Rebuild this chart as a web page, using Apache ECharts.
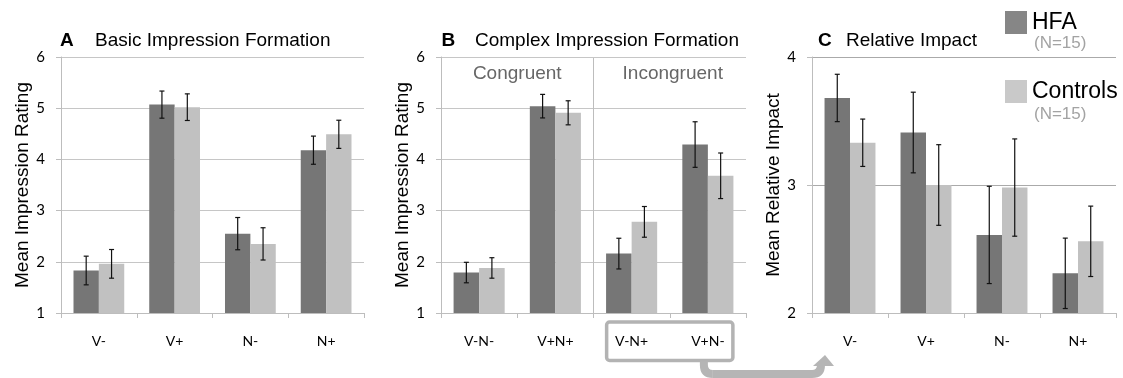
<!DOCTYPE html>
<html>
<head>
<meta charset="utf-8">
<script src="https://cdn.jsdelivr.net/npm/echarts@6/dist/echarts.min.js"></script>
<style>
  html, body { margin: 0; padding: 0; background: #fff; }
  #chart { width: 1123px; height: 378px; }
</style>
</head>
<body>
<div id="chart"></div>
<script>
// Panel A: basic impression formation
const basicCategories = ['V-', 'V+', 'N-', 'N+'];
const basicHFA = [1.83, 5.07, 2.55, 4.18];
const basicHFAErr = [0.28, 0.265, 0.315, 0.275];
const basicCtrl = [1.96, 5.02, 2.35, 4.49];
const basicCtrlErr = [0.28, 0.26, 0.315, 0.275];

// Panel B: complex impression formation
const complexCategories = ['V-N-', 'V+N+', 'V-N+', 'V+N-'];
const complexHFA = [1.79, 5.04, 2.16, 4.29];
const complexHFAErr = [0.2, 0.23, 0.3, 0.445];
const complexCtrl = [1.88, 4.91, 2.78, 3.68];
const complexCtrlErr = [0.2, 0.235, 0.3, 0.445];

// Panel C: relative impact
const impactCategories = ['V-', 'V+', 'N-', 'N+'];
const impactHFA = [3.68, 3.41, 2.61, 2.31];
const impactHFAErr = [0.185, 0.315, 0.38, 0.275];
const impactCtrl = [3.33, 3.0, 2.98, 2.56];
const impactCtrlErr = [0.185, 0.315, 0.38, 0.275];

const panelTitles = ['Basic Impression Formation', 'Complex Impression Formation', 'Relative Impact'];
const panelLetters = ['A', 'B', 'C'];
const axisNames = ['Mean Impression Rating', 'Mean Impression Rating', 'Mean Relative Impact'];
const groupNotes = ['Congruent', 'Incongruent'];
const sampleNote = '(N=15)';

const DARK = '#767676';
const LIGHT = '#c1c1c1';
const AXIS = '#bdbdbd';
const GRIDLINE = '#c6c6c6';
const SANS = '"Liberation Sans", Arial, sans-serif';
const TICKFONT = 'Lato, "Open Sans", sans-serif';
const CAT_GAP = 0.33;

const panels = [
  { cats: basicCategories, hfa: basicHFA, hfaErr: basicHFAErr, ctrl: basicCtrl, ctrlErr: basicCtrlErr, min: 1, max: 6 },
  { cats: complexCategories, hfa: complexHFA, hfaErr: complexHFAErr, ctrl: complexCtrl, ctrlErr: complexCtrlErr, min: 1, max: 6 },
  { cats: impactCategories, hfa: impactHFA, hfaErr: impactHFAErr, ctrl: impactCtrl, ctrlErr: impactCtrlErr, min: 2, max: 4 }
];

const grids = [
  { left: 61, top: 57, width: 303, height: 256 },
  { left: 441, top: 57, width: 305, height: 256 },
  { left: 812, top: 57, width: 304, height: 256 }
];

const titleSpots = [
  { letter: 60, text: 95 },
  { letter: 441.5, text: 475 },
  { letter: 818, text: 846 }
];

function errorSeries(name, values, errs, idx, side) {
  return {
    type: 'custom',
    name: name,
    xAxisIndex: idx,
    yAxisIndex: idx,
    z: 5,
    silent: true,
    encode: { x: 0, y: [1, 2] },
    data: values.map((v, i) => [i, v - errs[i], v + errs[i]]),
    renderItem(params, api) {
      const band = api.size([1, 0])[0];
      const off = side * band * (1 - CAT_GAP) / 4;
      const lo = api.coord([api.value(0), api.value(1)]);
      const hi = api.coord([api.value(0), api.value(2)]);
      const x = lo[0] + off;
      const cap = 2.5;
      const style = { stroke: '#111', lineWidth: 1.2 };
      return {
        type: 'group',
        children: [
          { type: 'line', shape: { x1: x, y1: hi[1], x2: x, y2: lo[1] }, style },
          { type: 'line', shape: { x1: x - cap, y1: hi[1], x2: x + cap, y2: hi[1] }, style },
          { type: 'line', shape: { x1: x - cap, y1: lo[1], x2: x + cap, y2: lo[1] }, style }
        ]
      };
    }
  };
}

const option = {
  animation: false,
  backgroundColor: '#fff',
  title: [],
  legend: {
    orient: 'vertical',
    left: 1005,
    top: 11,
    padding: 0,
    itemWidth: 22,
    itemHeight: 23,
    itemGap: 46,
    icon: 'rect',
    selectedMode: false,
    textStyle: { fontSize: 23, fontFamily: SANS, color: '#000' },
    data: [
      { name: 'HFA', itemStyle: { color: '#868686' } },
      { name: 'Controls', itemStyle: { color: '#c9c9c9' } }
    ]
  },
  grid: grids,
  xAxis: [],
  yAxis: [],
  series: []
};

panels.forEach((p, i) => {
  option.title.push({
    text: panelLetters[i], left: titleSpots[i].letter, top: 31, padding: 0,
    textStyle: { fontSize: 19, fontWeight: 'bold', fontFamily: SANS, color: '#000' }
  });
  option.title.push({
    text: panelTitles[i], left: titleSpots[i].text, top: 31, padding: 0,
    textStyle: { fontSize: 19, fontWeight: 'normal', fontFamily: SANS, color: '#000' }
  });
  option.xAxis.push({
    type: 'category',
    gridIndex: i,
    data: p.cats,
    axisLine: { lineStyle: { color: AXIS, width: 1 } },
    axisTick: { show: true, length: 5, lineStyle: { color: AXIS } },
    axisLabel: { margin: 21, fontSize: 14, fontFamily: TICKFONT, color: '#000' }
  });
  option.yAxis.push({
    type: 'value',
    gridIndex: i,
    min: p.min,
    max: p.max,
    interval: 1,
    name: axisNames[i],
    nameLocation: 'middle',
    nameGap: 28,
    nameTextStyle: { fontSize: 19, fontFamily: SANS, color: '#000' },
    axisLine: { show: true, lineStyle: { color: AXIS } },
    axisTick: { show: true, length: 5, lineStyle: { color: AXIS } },
    axisLabel: { margin: 16, fontSize: 15, fontFamily: TICKFONT, color: '#000' },
    splitLine: { show: true, lineStyle: { color: i === 2 ? '#aaaaaa' : GRIDLINE } }
  });
  option.series.push({
    type: 'bar', name: 'HFA', xAxisIndex: i, yAxisIndex: i,
    data: p.hfa, itemStyle: { color: DARK },
    barGap: '0%', barCategoryGap: (CAT_GAP * 100) + '%'
  });
  option.series.push({
    type: 'bar', name: 'Controls', xAxisIndex: i, yAxisIndex: i,
    data: p.ctrl, itemStyle: { color: LIGHT },
    barGap: '0%', barCategoryGap: (CAT_GAP * 100) + '%'
  });
  option.series.push(errorSeries('HFA error', p.hfa, p.hfaErr, i, -1));
  option.series.push(errorSeries('Controls error', p.ctrl, p.ctrlErr, i, 1));
});

const chart = echarts.init(document.getElementById('chart'), null, { renderer: 'canvas' });
chart.setOption(option);

// Annotations placed from the axes' own pixel positions
const cx = (axis, idx) => chart.convertToPixel({ xAxisIndex: axis }, idx);
const cy = (axis, v) => chart.convertToPixel({ yAxisIndex: axis }, v);

const bTop = cy(1, 6);
const base = cy(1, 1);
const divX = (cx(1, 1) + cx(1, 2)) / 2;
const congX = (cx(1, 0) + cx(1, 1)) / 2;
const incX = divX + (cx(1, 3) - cx(1, 2)) + 3;

const boxL = cx(1, 2) - 25;
const boxR = cx(1, 3) + 25;
const boxT = base + 9;
const boxB = base + 47.5;

const startX = cx(1, 3) - 4;
const endX = cx(2, 0) - 29;
const runY = base + 61;
const headY = base + 53;
const tipY = base + 42;
const r = 9;

const ARROW = '#b5b5b5';
const arrowStyle = { fill: 'none', stroke: ARROW, lineWidth: 8 };

chart.setOption({
  graphic: [
    { type: 'line', silent: true, z: 1,
      shape: { x1: divX, y1: bTop + 1, x2: divX, y2: base },
      style: { stroke: AXIS, lineWidth: 1 } },
    { type: 'text', silent: true,
      style: { text: groupNotes[0], x: congX, y: bTop + 17, align: 'center', verticalAlign: 'middle',
               fontSize: 19, fontFamily: SANS, fill: '#676767' } },
    { type: 'text', silent: true,
      style: { text: groupNotes[1], x: incX, y: bTop + 17, align: 'center', verticalAlign: 'middle',
               fontSize: 19, fontFamily: SANS, fill: '#676767' } },
    { type: 'rect', silent: true,
      shape: { x: boxL, y: boxT, width: boxR - boxL, height: boxB - boxT, r: 3 },
      style: { fill: 'none', stroke: '#b3b3b3', lineWidth: 3.5 } },
    // bent connector from the incongruent pair down and across to panel C
    { type: 'line', silent: true,
      shape: { x1: startX, y1: boxB + 1, x2: startX, y2: runY - r },
      style: arrowStyle },
    { type: 'bezierCurve', silent: true,
      shape: { x1: startX, y1: runY - r, cpx1: startX, cpy1: runY, x2: startX + r, y2: runY },
      style: arrowStyle },
    { type: 'line', silent: true,
      shape: { x1: startX + r, y1: runY, x2: endX - r, y2: runY },
      style: arrowStyle },
    { type: 'bezierCurve', silent: true,
      shape: { x1: endX - r, y1: runY, cpx1: endX, cpy1: runY, x2: endX, y2: runY - r },
      style: arrowStyle },
    { type: 'line', silent: true,
      shape: { x1: endX, y1: runY - r, x2: endX, y2: headY },
      style: arrowStyle },
    { type: 'polygon', silent: true,
      shape: { points: [[endX - 8, headY], [endX + 13, headY], [endX + 4, tipY]] },
      style: { fill: ARROW } },
    { type: 'text', silent: true,
      style: { text: sampleNote, x: 1034, y: 43, verticalAlign: 'middle',
               fontSize: 17, fontFamily: SANS, fill: '#a3a3a3' } },
    { type: 'text', silent: true,
      style: { text: sampleNote, x: 1034, y: 114, verticalAlign: 'middle',
               fontSize: 17, fontFamily: SANS, fill: '#a3a3a3' } }
  ]
});
</script>
</body>
</html>
